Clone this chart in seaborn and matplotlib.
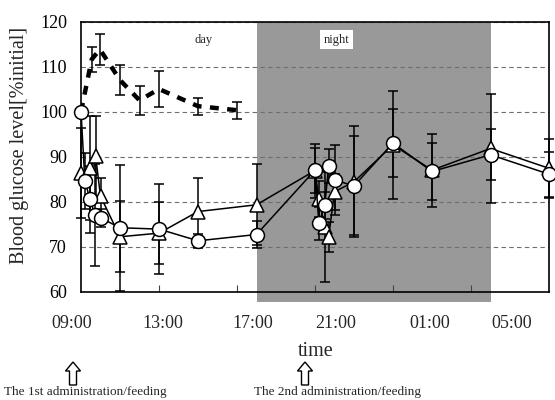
import matplotlib
matplotlib.use("Agg")
import matplotlib.pyplot as plt
from matplotlib.patches import Rectangle, FancyArrow
from matplotlib.transforms import blended_transform_factory
import seaborn as sns

# hours elapsed since 09:00
circle_t = [0.0, 0.2, 0.46, 0.72, 1.0, 2.0, 4.0, 6.0, 9.0, 12.0, 12.2, 12.5, 12.7, 13.0, 14.0, 16.0, 18.0, 21.0, 24.0]
circle_v = [100.0, 84.6, 80.5, 77.0, 76.4, 74.2, 73.9, 71.3, 72.7, 87.0, 75.2, 79.2, 87.9, 84.8, 83.5, 93.0, 86.7, 90.4, 86.1]
circle_e = [0.0, 6.3, 7.5, 11.4, 2.0, 14.0, 10.0, 1.5, 3.0, 5.0, 3.7, 3.0, 3.7, 7.8, 11.0, 7.5, 6.3, 5.7, 5.0]

tri_t = [0.0, 0.46, 0.75, 1.0, 2.0, 4.0, 6.0, 9.0, 12.0, 12.2, 12.5, 12.7, 13.0, 14.0, 16.0, 18.0, 21.0, 24.0]
tri_v = [86.3, 87.5, 90.1, 81.2, 72.2, 73.0, 77.8, 79.3, 86.9, 80.5, 74.4, 72.2, 82.2, 84.4, 92.6, 87.0, 91.8, 87.4]
tri_e = [10.0, 11.5, 9.0, 4.0, 7.9, 6.9, 7.5, 9.0, 6.0, 4.0, 12.2, 3.3, 4.0, 12.3, 12.0, 8.1, 12.0, 6.5]

dash_t = [0.0, 0.55, 0.97, 2.0, 3.0, 4.0, 6.0, 8.0]
dash_v = [100.0, 111.6, 113.8, 107.0, 102.5, 105.0, 101.2, 100.3]
dash_e = [0.0, 2.8, 3.4, 3.3, 3.2, 4.0, 1.9, 1.9]

time_labels = ["09:00", "13:00", "17:00", "21:00", "01:00", "05:00"]
time_label_pos = [-0.46, 4.21, 8.82, 13.08, 17.9, 22.1]
night_span = (9.0, 21.0)

sns.set_theme(style="white")
plt.rcParams["font.family"] = ["Liberation Serif", "DejaVu Serif"]

fig = plt.figure(figsize=(5.55, 4.0), dpi=100)
ax = fig.add_axes([81 / 555, 1 - 291.7 / 400, (549 - 81) / 555, (291.7 - 21.5) / 400])
ax.set_xlim(0, 24)
ax.set_ylim(60, 120)

# night band, reaching slightly below the x axis
ax.add_patch(Rectangle((night_span[0], 57.8), night_span[1] - night_span[0], 62.2,
                       facecolor="#999999", edgecolor="none", zorder=0.4, clip_on=False))

ax.set_yticks([60, 70, 80, 90, 100, 110, 120])
ax.yaxis.grid(True, color="#6e6e6e", linestyle=(0, (4, 3)), linewidth=0.8)
ax.set_axisbelow(True)
ax.tick_params(axis="y", length=0, pad=10, labelsize=13, labelcolor="black")

ax.set_xticks([])
ax.set_xticks([4, 8, 12, 16, 20], minor=True)
ax.tick_params(axis="x", which="minor", direction="in", length=5, width=0.8, color="#444444", bottom=True)

for s in ax.spines.values():
    s.set_color("black")
    s.set_linewidth(1.2)

eb = dict(fmt="none", ecolor="black", elinewidth=1.1, capsize=3.5, capthick=1.1, zorder=2)
for t, v, e in [(dash_t, dash_v, dash_e), (circle_t, circle_v, circle_e), (tri_t, tri_v, tri_e)]:
    c = ax.errorbar(t, v, yerr=e, **eb)
    for art in c.lines[1] + c.lines[2]:
        art.set_clip_on(False)

sns.lineplot(x=dash_t, y=dash_v, ax=ax, estimator=None, sort=False, color="black",
             linewidth=3.2, linestyle=(0, (2.0, 1.9)), zorder=3)
sns.lineplot(x=tri_t, y=tri_v, ax=ax, estimator=None, sort=False, color="black",
             linewidth=1.1, marker="^", markersize=10.5, markerfacecolor="white",
             markeredgecolor="black", markeredgewidth=1.1, clip_on=False, zorder=4)
sns.lineplot(x=circle_t, y=circle_v, ax=ax, estimator=None, sort=False, color="black",
             linewidth=1.1, marker="o", markersize=10, markerfacecolor="white",
             markeredgecolor="black", markeredgewidth=1.1, clip_on=False, zorder=4)
ax.set_xlabel("")
ax.set_ylabel("")

ax.text(6.26, 115.9, "day", ha="center", va="center", fontsize=9)
ax.text(13.1, 115.9, "night", ha="center", va="center", fontsize=9,
        bbox=dict(facecolor="white", edgecolor="none", pad=2.5))

trans = blended_transform_factory(ax.transData, fig.transFigure)
for pos, lab in zip(time_label_pos, time_labels):
    ax.text(pos, 1 - 323 / 400, lab, transform=trans, ha="center", va="center",
            fontsize=13, clip_on=False)

fig.text(20 / 555, 1 - 145 / 400, "Blood glucose level[%initial]", rotation=90,
         ha="center", va="center", fontsize=14.5)
fig.text(316 / 555, 1 - 352 / 400, "time", ha="center", va="center", fontsize=14.5)

for xc, txt, tc in [(73, "The 1st administration/feeding", 85), (305, "The 2nd administration/feeding", 337)]:
    fig.add_artist(FancyArrow(xc / 555, 1 - 385 / 400, 0, 23 / 400, width=7 / 555,
                              head_width=15 / 555, head_length=9 / 400, length_includes_head=True,
                              facecolor="white", edgecolor="black", linewidth=1.0,
                              transform=fig.transFigure))
    fig.text(tc / 555, 1 - 392 / 400, txt, ha="center", va="center", fontsize=9.5)

fig.savefig("out.png", dpi=100)
